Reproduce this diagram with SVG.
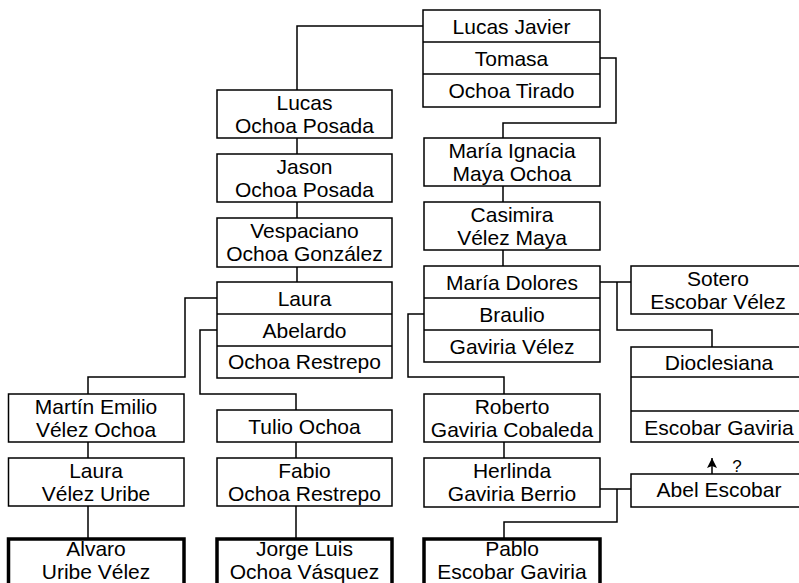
<svg xmlns="http://www.w3.org/2000/svg" width="799" height="583" viewBox="0 0 799 583">
<style>
.b{fill:#fff;stroke:#000;stroke-width:1.5}
.k{fill:#fff;stroke:#000;stroke-width:3.5}
.d{stroke:#000;stroke-width:1.5}
.c{fill:none;stroke:#000;stroke-width:1.5}
text{font-family:"Liberation Sans",Arial,sans-serif;font-size:21px;text-anchor:middle;fill:#000}
.q{font-size:17px}
</style>
<defs>
<marker id="ah" viewBox="0 0 10 10" refX="10" refY="5" markerWidth="10" markerHeight="10" orient="auto" markerUnits="userSpaceOnUse">
<path d="M0,0 L10,5 L0,10 L2,5 Z" fill="#000"/>
</marker>
</defs>
<rect width="799" height="583" fill="#fff"/>
<g id="connectors">
<path class="c" d="M423,26 H297 V90"/>
<path class="c" d="M600,58 H616 V123 H503 V138"/>
<path class="c" d="M297,138 V154 M297,202 V218 M297,267 V282"/>
<path class="c" d="M503,186 V202 M503,250 V266"/>
<path class="c" d="M217,298 H185 V377 H88 V394"/>
<path class="c" d="M217,330 H200 V394 H296 V410"/>
<path class="c" d="M88,442 V458 M88,506 V539"/>
<path class="c" d="M296,442 V458 M296,506 V539"/>
<path class="c" d="M600,282 H631 M617,282 V330 H712 V347"/>
<path class="c" d="M424,314 H408 V377 H504 V394"/>
<path class="c" d="M504,442 V458"/>
<path class="c" d="M600,489 H631 M617,489 V522 H504 V539"/>
<path class="c" d="M712,474 V458" marker-end="url(#ah)"/>
<text class="q" x="737" y="472">?</text>
</g>
<g id="lucas-javier">
<rect class="b" x="423" y="10" width="177" height="97"/>
<line class="d" x1="423" y1="42" x2="600" y2="42"/>
<line class="d" x1="423" y1="74" x2="600" y2="74"/>
<text x="511.5" y="34">Lucas Javier</text>
<text x="511.5" y="66">Tomasa</text>
<text x="511.5" y="98">Ochoa Tirado</text>
</g>
<g id="lucas">
<rect class="b" x="217" y="90" width="175" height="48"/>
<text x="304.5" y="110">Lucas</text>
<text x="304.5" y="133">Ochoa Posada</text>
</g>
<g id="jason">
<rect class="b" x="217" y="154" width="175" height="48"/>
<text x="304.5" y="174">Jason</text>
<text x="304.5" y="197">Ochoa Posada</text>
</g>
<g id="vespaciano">
<rect class="b" x="217" y="218" width="175" height="49"/>
<text x="304.5" y="238">Vespaciano</text>
<text x="304.5" y="261">Ochoa González</text>
</g>
<g id="laura-abelardo">
<rect class="b" x="217" y="282" width="175" height="96"/>
<line class="d" x1="217" y1="314" x2="392" y2="314"/>
<line class="d" x1="217" y1="346" x2="392" y2="346"/>
<text x="304.5" y="306">Laura</text>
<text x="304.5" y="338">Abelardo</text>
<text x="304.5" y="369">Ochoa Restrepo</text>
</g>
<g id="martin-emilio">
<rect class="b" x="8.5" y="394" width="175.5" height="48"/>
<text x="96" y="414">Martín Emilio</text>
<text x="96" y="437">Vélez Ochoa</text>
</g>
<g id="laura-velez">
<rect class="b" x="8.5" y="458" width="175.5" height="48"/>
<text x="96" y="478">Laura</text>
<text x="96" y="501">Vélez Uribe</text>
</g>
<g id="alvaro">
<rect class="k" x="8.5" y="539" width="175.5" height="60"/>
<text x="96" y="556">Alvaro</text>
<text x="96" y="579">Uribe Vélez</text>
</g>
<g id="tulio">
<rect class="b" x="217" y="410" width="175" height="32"/>
<text x="304.5" y="434">Tulio Ochoa</text>
</g>
<g id="fabio">
<rect class="b" x="217" y="458" width="175" height="48"/>
<text x="304.5" y="478">Fabio</text>
<text x="304.5" y="501">Ochoa Restrepo</text>
</g>
<g id="jorge-luis">
<rect class="k" x="217" y="539" width="175" height="60"/>
<text x="304.5" y="556">Jorge Luis</text>
<text x="304.5" y="579">Ochoa Vásquez</text>
</g>
<g id="maria-ignacia">
<rect class="b" x="424" y="138" width="176" height="48"/>
<text x="512" y="158">María Ignacia</text>
<text x="512" y="181">Maya Ochoa</text>
</g>
<g id="casimira">
<rect class="b" x="424" y="202" width="176" height="48"/>
<text x="512" y="222">Casimira</text>
<text x="512" y="245">Vélez Maya</text>
</g>
<g id="maria-dolores">
<rect class="b" x="424" y="266" width="176" height="96"/>
<line class="d" x1="424" y1="298" x2="600" y2="298"/>
<line class="d" x1="424" y1="330" x2="600" y2="330"/>
<text x="512" y="290">María Dolores</text>
<text x="512" y="322">Braulio</text>
<text x="512" y="354">Gaviria Vélez</text>
</g>
<g id="roberto">
<rect class="b" x="424" y="394" width="176" height="48"/>
<text x="512" y="414">Roberto</text>
<text x="512" y="437">Gaviria Cobaleda</text>
</g>
<g id="herlinda">
<rect class="b" x="424" y="458" width="176" height="49"/>
<text x="512" y="478">Herlinda</text>
<text x="512" y="501">Gaviria Berrio</text>
</g>
<g id="pablo">
<rect class="k" x="424" y="539" width="176" height="60"/>
<text x="512" y="556">Pablo</text>
<text x="512" y="579">Escobar Gaviria</text>
</g>
<g id="sotero">
<rect class="b" x="631" y="266" width="170" height="48"/>
<text x="718" y="286">Sotero</text>
<text x="718" y="309">Escobar Vélez</text>
</g>
<g id="dioclesiana">
<rect class="b" x="631" y="347" width="170" height="95"/>
<line class="d" x1="631" y1="377" x2="801" y2="377"/>
<line class="d" x1="631" y1="411" x2="801" y2="411"/>
<text x="719" y="370">Dioclesiana</text>
<text x="719" y="435">Escobar Gaviria</text>
</g>
<g id="abel">
<rect class="b" x="631" y="474" width="170" height="33"/>
<text x="719" y="497">Abel Escobar</text>
</g>
</svg>
